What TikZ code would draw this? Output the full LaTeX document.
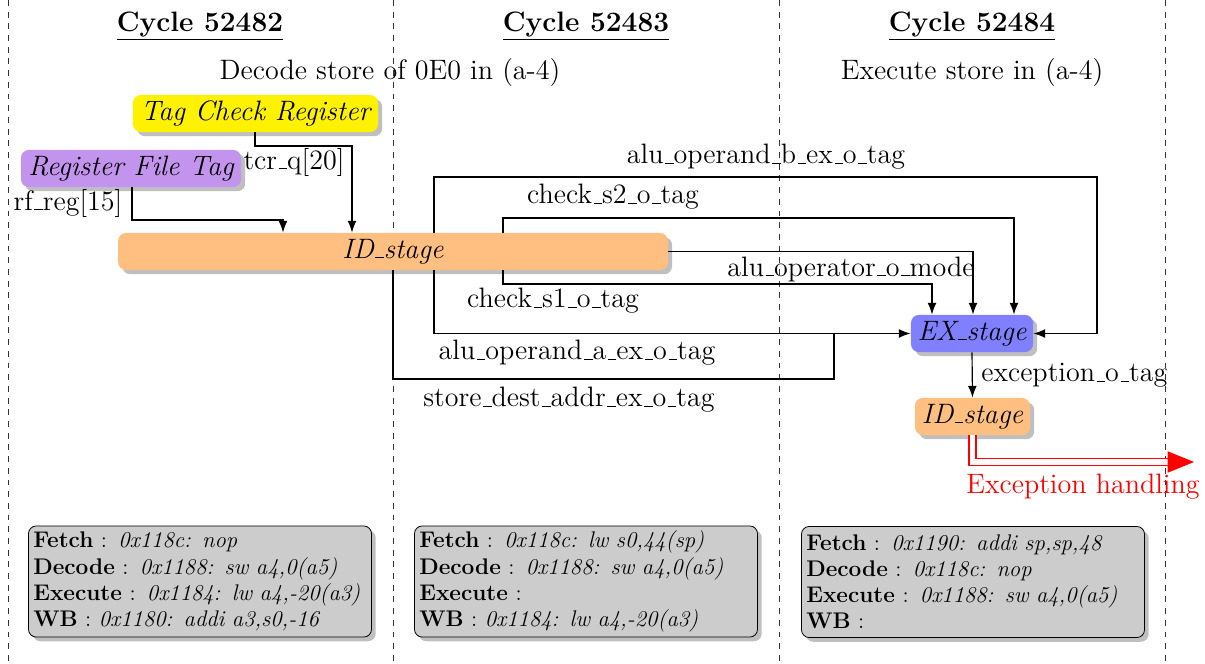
\documentclass[tikz,border=0pt]{standalone}
\usetikzlibrary{shadows,arrows.meta}
\definecolor{rfviolet}{RGB}{195,148,238}
\newcommand{\us}{\leavevmode\kern.06em\vbox{\hrule width.3em}}
\begin{document}
\begin{tikzpicture}[x=0.513pt,y=-0.513pt,
  every node/.style={font=\fontsize{14.4}{17}\selectfont},
  unit/.style={rounded corners=4pt, drop shadow, inner sep=0pt, font=\fontsize{14.4}{17}\selectfont\itshape, minimum height=19pt},
  infobox/.style={draw, rounded corners=4pt, fill=black!20, drop shadow, align=left, inner sep=2.5pt, text width=171pt, minimum height=57pt, font=\fontsize{11.6}{13.4}\selectfont},
  sig/.style={draw, semithick, -{Latex[length=6pt,width=4.5pt]}},
  wire/.style={draw, semithick},
  lbl/.style={inner sep=1pt},
  sep/.style={dashed, black!80},
  head/.style={font=\fontsize{14.4}{17}\selectfont\bfseries},
  desc/.style={font=\fontsize{14.4}{17}\selectfont}
]
\useasboundingbox (0,0) rectangle (1205,664);
% column separators
\foreach \xx in {8,393,779,1165} \draw[sep] (\xx,0) -- (\xx,664);
% headings
\node[head] (h1) at (200,26) {\underline{Cycle 52482}};
\node[head] (h2) at (586,26) {\underline{Cycle 52483}};
\node[head] (h3) at (972,26) {\underline{Cycle 52484}};
\node[desc] (d1) at (390,72) {Decode store of 0E0 in (a-4)};
\node[desc] (d3) at (972,72) {Execute store in (a-4)};
% units
\node[unit, fill=yellow, minimum width=125.7pt] (tcr) at (255.5,113.5) {Tag Check Register};
\node[unit, fill=rfviolet, minimum width=112.9pt] (rft) at (131,168.5) {Register File Tag};
\node[unit, fill=orange!50, minimum width=282pt] (id) at (393,251.5) {ID\us stage};
\node[unit, fill=blue!50, minimum width=62.6pt] (ex) at (972,333.5) {EX\us stage};
\node[unit, fill=orange!50, minimum width=59pt] (id2) at (972.5,416.5) {ID\us stage};
% connectors
\draw[sig] (tcr.south -| 255,0) -- (255,146) -- (352,146) -- (id.north -| 352,0);
\node[lbl] (l1) at (294,162) {tcr\us q[20]};
\draw[sig] (rft.south -| 132,0) -- (132,220) -- (283,220) -- (id.north -| 283,0);
\node[lbl] (l2) at (68,203) {rf\us reg[15]};
\draw[sig] (id.north -| 434,0) -- (434,177) -- (1097,177) -- (1097,333.5) -- (ex.east);
\node[lbl] (l3) at (766,157) {alu\us operand\us b\us ex\us o\us tag};
\draw[sig] (id.south -| 434,0) -- (434,333.5) -- (ex.west);
\node[lbl] (l4) at (577,353) {alu\us operand\us a\us ex\us o\us tag};
\draw[sig] (id.north -| 503,0) -- (503,218) -- (1014,218) -- (ex.north -| 1014,0);
\node[lbl] (l5) at (613,197) {check\us s2\us o\us tag};
\draw[sig] (id.south -| 503,0) -- (503,284) -- (932,284) -- (ex.north -| 932,0);
\node[lbl] (l6) at (553,301) {check\us s1\us o\us tag};
\draw[sig] (id.east) -- (973,251.5) -- (ex.north -| 973,0);
\node[lbl] (l7) at (851,269) {alu\us operator\us o\us mode};
\draw[wire] (id.south -| 393,0) -- (393,379) -- (834,379) -- (834,333.5);
\node[lbl] (l8) at (569,400) {store\us dest\us addr\us ex\us o\us tag};
\draw[sig] (ex.south) -- (id2.north);
\node[lbl, anchor=west] (l9) at (979,375) {exception\us o\us tag};
\coordinate (exh) at (1194,462);
\draw[red, line width=1pt, double, double distance=2.6pt] (id2.south) |- ([xshift=-13pt]exh);
\fill[red] (exh) -- ++(-13.5pt,5.5pt) -- ++(0,-11pt) -- cycle;
\node[lbl, text=red] (l10) at (1083,487) {Exception handling};
% pipeline boxes
\node[infobox] (b1) at (200,581.5) {\textbf{Fetch} : \textit{0x118c: nop}\\ \textbf{Decode} : \textit{0x1188: sw a4,0(a5)}\\ \textbf{Execute} : \textit{0x1184: lw a4,-20(a3)}\\ \textbf{WB} : \textit{0x1180: addi a3,s0,-16}};
\node[infobox] (b2) at (586,581.5) {\textbf{Fetch} : \textit{0x118c: lw s0,44(sp)}\\ \textbf{Decode} : \textit{0x1188: sw a4,0(a5)}\\ \textbf{Execute} : \\ \textbf{WB} : \textit{0x1184: lw a4,-20(a3)}};
\node[infobox] (b3) at (973,582) {\textbf{Fetch} : \textit{0x1190: addi sp,sp,48}\\ \textbf{Decode} : \textit{0x118c: nop}\\ \textbf{Execute} : \textit{0x1188: sw a4,0(a5)}\\ \textbf{WB} : };
\end{tikzpicture}
\end{document}
